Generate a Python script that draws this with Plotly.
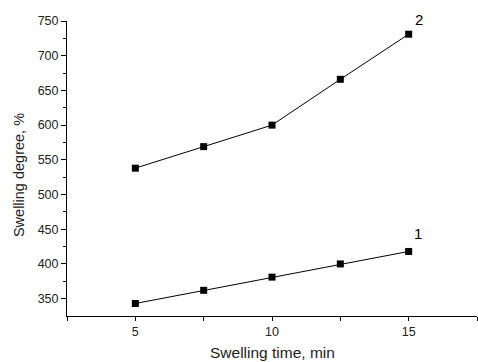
import plotly.graph_objects as go

time_min = [5, 7.5, 10, 12.5, 15]
series1 = [343, 362, 381, 400, 418]
series2 = [538, 569, 600, 666, 731]
series_labels = ["1", "2"]
x_ticks = [5, 10, 15]
y_ticks = [350, 400, 450, 500, 550, 600, 650, 700, 750]

fig = go.Figure()
for ys in (series1, series2):
    fig.add_trace(go.Scatter(
        x=time_min, y=ys, mode="lines+markers",
        line=dict(color="black", width=1),
        marker=dict(symbol="square", size=7, color="black"),
        showlegend=False, cliponaxis=False))

fig.add_annotation(x=15.34, y=444, text=series_labels[0], showarrow=False,
                   font=dict(size=15, color="black"), xanchor="center", yanchor="middle")
fig.add_annotation(x=15.37, y=750, yshift=2, text=series_labels[1], showarrow=False,
                   font=dict(size=15, color="black"), xanchor="center", yanchor="middle")
# axis titles
fig.add_annotation(xref="paper", yref="paper", x=0, xshift=-48.5, y=0.476,
                   text="Swelling degree, %", textangle=-90, showarrow=False,
                   font=dict(size=14.5, color="#222"), xanchor="center", yanchor="middle")
fig.add_annotation(xref="paper", yref="paper", x=0.5, y=0, yshift=-36,
                   text="Swelling time, min", showarrow=False,
                   font=dict(size=15.5, color="#222"), xanchor="center", yanchor="middle")

fig.update_layout(
    width=478, height=362,
    margin=dict(l=67, r=1, t=21, b=46, autoexpand=False),
    paper_bgcolor="white", plot_bgcolor="white",
    font=dict(family="Liberation Sans, Arial, sans-serif", size=12, color="#222"),
)
fig.update_xaxes(
    range=[2.5, 17.5], showgrid=False, zeroline=False, automargin=False,
    showline=True, linecolor="black", linewidth=1,
    tickmode="array", tickvals=x_ticks, ticks="outside", ticklen=4,
    tickcolor="black", tickwidth=1,
    minor=dict(tickmode="array", tickvals=[2.5, 7.5, 12.5, 17.5], ticks="outside",
               ticklen=4, tickcolor="black", tickwidth=1),
    tickfont=dict(size=12.5),
)
fig.update_yaxes(
    range=[325, 750], showgrid=False, zeroline=False, automargin=False,
    showline=True, linecolor="black", linewidth=1,
    tickmode="array", tickvals=y_ticks, ticks="outside", ticklen=5,
    tickcolor="black", tickwidth=1,
    minor=dict(tickmode="array", tickvals=[375, 425, 475, 525, 575, 625, 675, 725],
               ticks="outside", ticklen=3, tickcolor="black", tickwidth=1),
    tickfont=dict(size=12.5),
)

fig.write_html("out.html")
